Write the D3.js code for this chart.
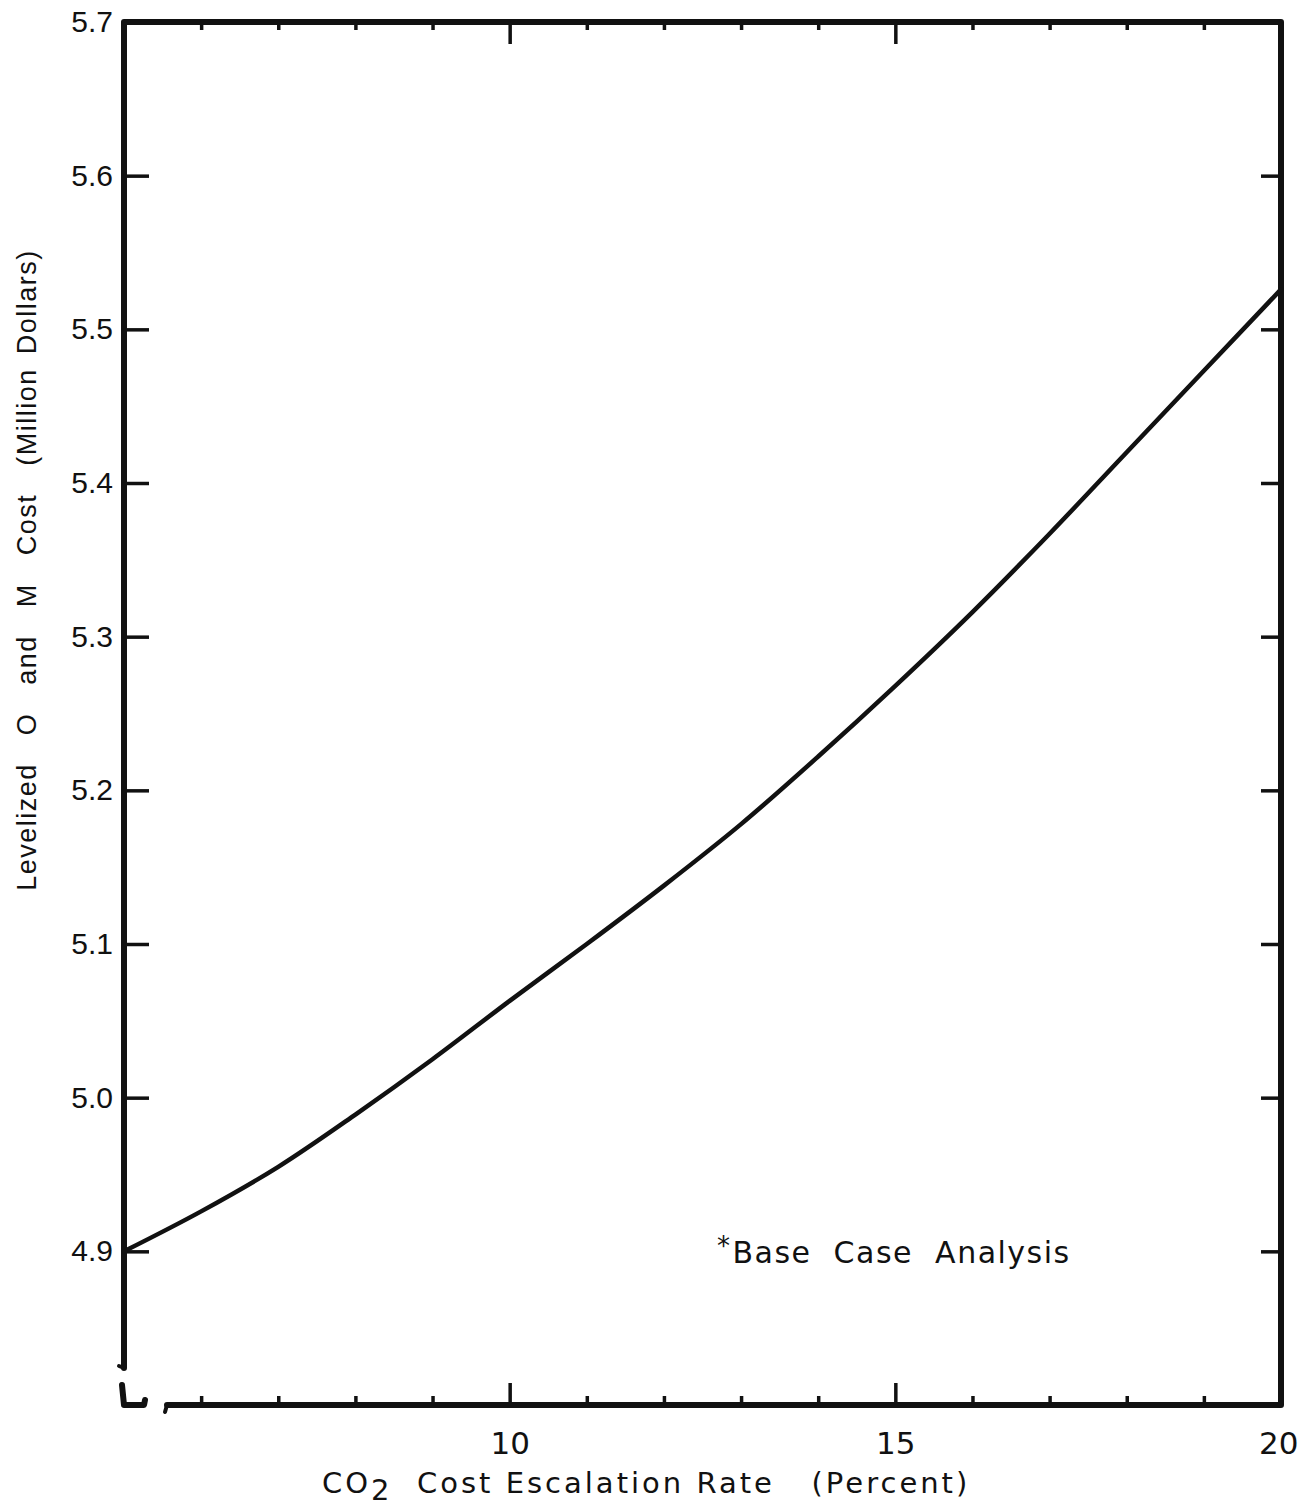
<!DOCTYPE html>
<html>
<head>
<meta charset="utf-8">
<script src="https://cdn.jsdelivr.net/npm/d3@7"></script>
<style>
  html, body { margin: 0; padding: 0; background: #fff; }
  svg { display: block; }
</style>
</head>
<body>
<svg id="chart" width="1302" height="1508"></svg>
<script>
// ---- data ----
const escalationRate = [5, 6, 7, 8, 9, 10, 11, 12, 13, 14, 15, 16, 17, 18, 19, 20];
const levelizedCost  = [4.900, 4.926, 4.955, 4.989, 5.025, 5.063, 5.100, 5.138, 5.178, 5.222, 5.268, 5.316, 5.367, 5.420, 5.473, 5.526];
const yTickValues = [4.9, 5.0, 5.1, 5.2, 5.3, 5.4, 5.5, 5.6, 5.7];
const yTickLabels = ["4.9", "5.0", "5.1", "5.2", "5.3", "5.4", "5.5", "5.6", "5.7"];
const xMajorTicks = [10, 15, 20];
const xMajorLabels = ["10", "15", "20"];
const xMinorTicks = [6, 7, 8, 9, 11, 12, 13, 14, 16, 17, 18, 19];
const xTitle = "Cost Escalation Rate   (Percent)";
const yTitle = "Levelized  O  and  M  Cost  (Million Dollars)";
const note = "Base  Case  Analysis";

// ---- layout ----
const L = 124, R = 1281, T = 22, B = 1405;
const svg = d3.select("#chart");
const x = d3.scaleLinear().domain([5, 20]).range([L, R]);
const y = d3.scaleLinear().domain([4.8, 5.7]).range([B, T]);

const ink = "#111";
const tickFont = "'Liberation Sans', Arial, sans-serif";
const letterFont = "'DejaVu Sans', 'Liberation Sans', sans-serif";

// left axis ticks (inward) + labels
const leftAxis = d3.axisLeft(y)
  .tickValues(yTickValues)
  .tickFormat((d, i) => yTickLabels[i])
  .tickSize(-25).tickPadding(11);
const gl = svg.append("g").attr("transform", `translate(${L},0)`).call(leftAxis);
gl.select(".domain").remove();
gl.selectAll(".tick line").attr("stroke", ink).attr("stroke-width", 3.5)
  .filter(d => d === 5.7).remove();
gl.selectAll(".tick text").attr("fill", ink).style("font-family", tickFont).style("font-size", "30px");

// right axis ticks (inward)
const rightAxis = d3.axisRight(y).tickValues(yTickValues.filter(v => v < 5.7)).tickSize(-20).tickFormat("");
const gr = svg.append("g").attr("transform", `translate(${R},0)`).call(rightAxis);
gr.select(".domain").remove();

// top axis ticks
const topMinor = d3.axisTop(x).tickValues(xMinorTicks).tickSize(-8).tickFormat("");
const gtm = svg.append("g").attr("transform", `translate(0,${T})`).call(topMinor);
gtm.select(".domain").remove();
const topMajor = d3.axisTop(x).tickValues([10, 15]).tickSize(-22).tickFormat("");
const gtM = svg.append("g").attr("transform", `translate(0,${T})`).call(topMajor);
gtM.select(".domain").remove();

// bottom axis ticks
const botMinor = d3.axisBottom(x).tickValues(xMinorTicks).tickSize(-9).tickFormat("");
const gbm = svg.append("g").attr("transform", `translate(0,${B})`).call(botMinor);
gbm.select(".domain").remove();
const botMajor = d3.axisBottom(x).tickValues(xMajorTicks)
  .tickFormat((d, i) => xMajorLabels[i]).tickSize(-22).tickPadding(27);
const gbM = svg.append("g").attr("transform", `translate(0,${B})`).call(botMajor);
gbM.select(".domain").remove();
svg.selectAll(".tick line").attr("stroke", ink).attr("stroke-width", 3.5);
gbM.selectAll(".tick line").filter(d => d === 20).remove();
gbM.selectAll(".tick text").attr("fill", ink).style("font-family", letterFont).style("font-size", "31px");
gbM.selectAll(".tick text").filter(d => d === 20).attr("text-anchor", "end").attr("dx", 17);

// frame with broken lower-left corner
const frame = svg.append("g").attr("fill", "none").attr("stroke", ink).attr("stroke-linecap", "round").attr("stroke-linejoin", "round");
frame.append("path").attr("stroke-width", 6)
  .attr("d", `M${L},${y(4.8) - 37} L${L},${T} L${R},${T} L${R},${B} L${L + 43},${B}`);
frame.append("path").attr("stroke-width", 4)
  .attr("d", `M${L},${y(4.8) - 37} L${L - 5},${y(4.8) - 39}`);
frame.append("path").attr("stroke-width", 4)
  .attr("d", `M${L + 43},${B} L${L + 41},${B + 7}`);
frame.append("path").attr("stroke-width", 6)
  .attr("d", `M${L - 2},${B - 20} L${L},${B} L${L + 20},${B} L${L + 21},${B - 5}`);

// curve
const line = d3.line()
  .x((d, i) => x(escalationRate[i]))
  .y(d => y(d))
  .curve(d3.curveCatmullRom.alpha(0.5));
svg.append("path")
  .datum(levelizedCost)
  .attr("fill", "none").attr("stroke", ink).attr("stroke-width", 4.5)
  .attr("stroke-linecap", "round")
  .attr("d", line);

// annotation
const nt = svg.append("text")
  .attr("x", 717).attr("y", 1263)
  .attr("fill", ink)
  .style("font-family", letterFont).style("font-size", "30px")
  .style("letter-spacing", "1.5px").attr("xml:space", "preserve");
nt.append("tspan").text("*").style("font-size", "26px").attr("dy", -8);
nt.append("tspan").text(note).attr("dy", 8).attr("dx", 1);

// x title
const xt = svg.append("text")
  .attr("x", 322).attr("y", 1493)
  .attr("fill", ink)
  .style("font-family", letterFont).style("font-size", "29px")
  .style("letter-spacing", "3px").attr("xml:space", "preserve");
xt.append("tspan").text("CO");
xt.append("tspan").text("2").attr("dy", 7);
xt.append("tspan").text("  " + xTitle).attr("dy", -7);

// y title
svg.append("text")
  .attr("transform", `translate(36,570) rotate(-90)`)
  .attr("text-anchor", "middle")
  .attr("fill", ink)
  .attr("xml:space", "preserve")
  .style("font-family", "'Liberation Sans Narrow', 'Liberation Sans', sans-serif")
  .style("font-size", "27px")
  .style("letter-spacing", "1.5px")
  .style("word-spacing", "5px")
  .text(yTitle);
</script>
</body>
</html>
